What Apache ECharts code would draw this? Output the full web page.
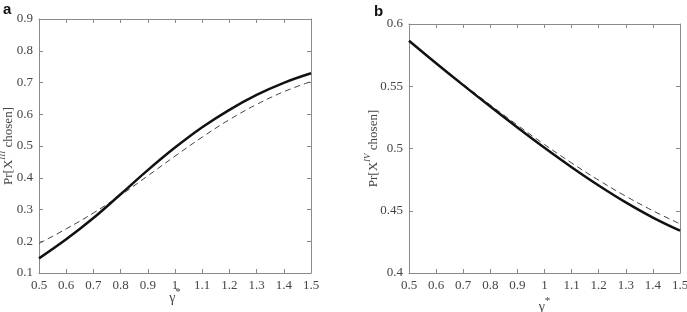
<!DOCTYPE html>
<html><head><meta charset="utf-8">
<script src="https://cdn.jsdelivr.net/npm/echarts@6/dist/echarts.min.js"></script>
<style>html,body{margin:0;padding:0;background:#fff}#c{width:687px;height:312px}</style>
</head><body><div id="c"></div>
<script>
const gammaValues = [0.5, 0.6, 0.7, 0.8, 0.9, 1.0, 1.1, 1.2, 1.3, 1.4, 1.5];
const aSolid  = [0.146, 0.206, 0.273, 0.348, 0.424, 0.495, 0.559, 0.614, 0.661, 0.699, 0.729];
const aDashed = [0.193, 0.239, 0.289, 0.345, 0.406, 0.468, 0.528, 0.583, 0.631, 0.671, 0.703];
const bSolid  = [0.5865, 0.5685, 0.5509, 0.5337, 0.5169, 0.5006, 0.4850, 0.4703, 0.4567, 0.4445, 0.4340];
const bDashed = [0.5865, 0.5689, 0.5517, 0.5350, 0.5188, 0.5032, 0.4884, 0.4745, 0.4617, 0.4500, 0.4395];
const aYTicks = {min: 0.1, max: 0.9, interval: 0.1};
const bYTicks = {min: 0.4, max: 0.6, interval: 0.05};
const xTicks = {min: 0.5, max: 1.5, interval: 0.1};

const serif = '"Liberation Serif", "DejaVu Serif", serif';
const axisColor = '#8a8a8a';
const labelColor = '#444';
function fmt(v){ return String(parseFloat(v.toFixed(2))); }
function pairs(xs, ys){ return xs.map((x,i)=>[x, ys[i]]); }

function xAxes(gridIndex, gap){
  const base = {type:'value', gridIndex, min:xTicks.min, max:xTicks.max, interval:xTicks.interval,
    splitLine:{show:false}, axisLine:{show:true, lineStyle:{color:axisColor, width:1}},
    axisTick:{show:true, inside:true, length:4, lineStyle:{color:axisColor}}};
  return [
    Object.assign({}, base, {position:'bottom',
      axisLabel:{color:labelColor, fontFamily:serif, fontSize:13, margin:6, formatter:fmt},
      name:'{g|γ}{s|*}', nameLocation:'middle', nameGap:gap, nameMoveOverlap:false,
      nameTextStyle:{rich:{
        g:{fontFamily:serif, fontSize:14, color:labelColor, lineHeight:18, verticalAlign:'bottom'},
        s:{fontFamily:serif, fontSize:11, color:labelColor, lineHeight:11, verticalAlign:'top'}}}}),
    Object.assign({}, base, {position:'top', axisLabel:{show:false}})
  ];
}
function yAxes(gridIndex, ticks, sup, gap){
  const base = {type:'value', gridIndex, min:ticks.min, max:ticks.max, interval:ticks.interval,
    splitLine:{show:false}, axisLine:{show:true, lineStyle:{color:axisColor, width:1}},
    axisTick:{show:true, inside:true, length:4, lineStyle:{color:axisColor}}};
  return [
    Object.assign({}, base, {position:'left',
      axisLabel:{color:labelColor, fontFamily:serif, fontSize:13, margin:6, formatter:fmt},
      name:'{n|Pr[X}{s|' + sup + '}{n| chosen]}', nameLocation:'middle', nameGap:gap, nameMoveOverlap:false,
      nameTextStyle:{rich:{
        n:{fontFamily:serif, fontSize:13, color:labelColor, lineHeight:17, verticalAlign:'bottom'},
        s:{fontFamily:serif, fontSize:9, fontStyle:'italic', color:labelColor, lineHeight:10, verticalAlign:'top'}}}}),
    Object.assign({}, base, {position:'right', axisLabel:{show:false}})
  ];
}

const chart = echarts.init(document.getElementById('c'), null, {renderer:'canvas'});
chart.setOption({
  animation:false,
  backgroundColor:'#fff',
  grid:[
    {left:39, top:19, width:272, height:254, outerBoundsMode:'none', containLabel:false},
    {left:409, top:24, width:271, height:249, outerBoundsMode:'none', containLabel:false}
  ],
  xAxis:[...xAxes(0, 14), ...xAxes(1, 23)],
  yAxis:[...yAxes(0, aYTicks, 'III', 24), ...yAxes(1, bYTicks, 'IV', 29)],
  graphic:[
    {type:'text', left:3, top:2, style:{text:'a', font:'bold 15px "Liberation Sans", Arial, sans-serif', fill:'#111'}},
    {type:'text', left:374, top:4, style:{text:'b', font:'bold 15px "Liberation Sans", Arial, sans-serif', fill:'#111'}}
  ],
  series:[
    {type:'line', xAxisIndex:0, yAxisIndex:0, data:pairs(gammaValues, aDashed), smooth:0.4, showSymbol:false,
      lineStyle:{color:'#444', width:1, type:[6,4]}},
    {type:'line', xAxisIndex:0, yAxisIndex:0, data:pairs(gammaValues, aSolid), smooth:0.4, showSymbol:false,
      lineStyle:{color:'#111', width:2.5}},
    {type:'line', xAxisIndex:2, yAxisIndex:2, data:pairs(gammaValues, bDashed), smooth:0.4, showSymbol:false,
      lineStyle:{color:'#444', width:1, type:[6,4]}},
    {type:'line', xAxisIndex:2, yAxisIndex:2, data:pairs(gammaValues, bSolid), smooth:0.4, showSymbol:false,
      lineStyle:{color:'#111', width:2.5}}
  ]
});
</script></body></html>
